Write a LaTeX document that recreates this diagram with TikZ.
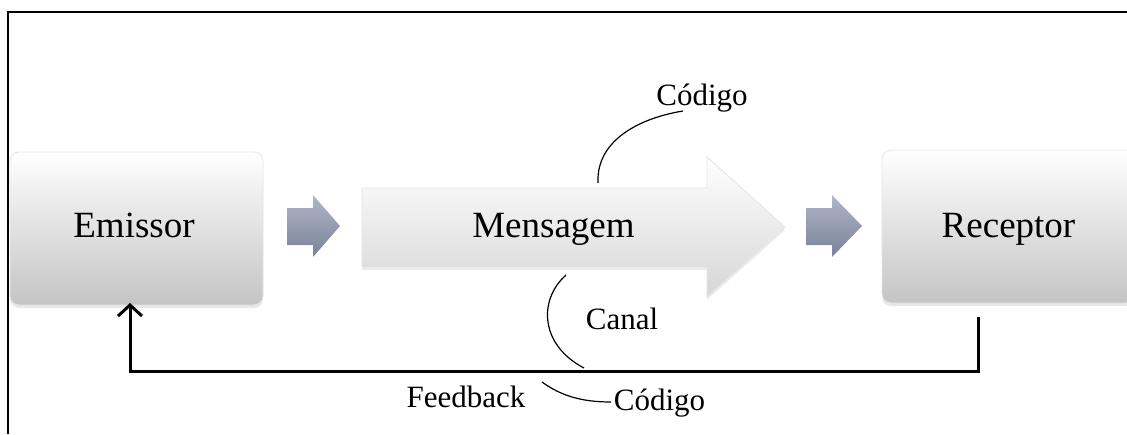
\documentclass[tikz,border=0pt]{standalone}
\usepackage{fontspec}
\setmainfont{Liberation Serif}
\usetikzlibrary{arrows.meta,shadows}
\definecolor{arrtop}{HTML}{B0B6C8}
\definecolor{arrbot}{HTML}{7A829A}
\definecolor{boxbot}{HTML}{C4C4C4}
\definecolor{msgbot}{HTML}{D6D6D6}
\begin{document}
\begin{tikzpicture}[x=1pt,y=-1pt,
  box/.style={rounded corners=9pt, top color=white, bottom color=boxbot, draw=black!10, line width=0.8pt,
    drop shadow={opacity=0.18, shadow xshift=0pt, shadow yshift=-3pt}},
  msg/.style={top color=white, bottom color=msgbot, draw=black!10, line width=0.8pt,
    drop shadow={opacity=0.15, shadow xshift=0pt, shadow yshift=-3pt}},
  smallarrow/.style={top color=arrtop, bottom color=arrbot, draw=none},
  big/.style={font=\fontsize{37}{40}\selectfont, anchor=base, inner sep=0pt},
  small/.style={font=\fontsize{31}{34}\selectfont, anchor=base, inner sep=0pt},
  fb/.style={line width=3pt, line join=miter},
  thin/.style={line width=1.2pt}
]
\useasboundingbox (0,0) rectangle (1127,434);
% frame
\draw[line width=1.5pt] (8,434) -- (8,12) -- (1127,12);
% boxes
\begin{scope}
\clip (0,0) rectangle (1127,434);
\path[box] (10,152) rectangle (263,305);
\path[box] (882,150) rectangle (1135,303);
\end{scope}
% small arrows
\path[smallarrow] (287,208) -- (313,208) -- (313,195) -- (340,226) -- (313,257) -- (313,245) -- (287,245) -- cycle;
\path[smallarrow] (806,208) -- (832,208) -- (832,195) -- (862,226) -- (832,257) -- (832,245) -- (806,245) -- cycle;
% message arrow
\path[msg] (362,188) -- (707,188) -- (707,157) -- (785,227) -- (707,297) -- (707,267) -- (362,267) -- cycle;
% texts
\node[big] (emi) at (134,237.5) {Emissor};
\node[big] (msgt) at (553.5,237.5) {Mensagem};
\node[big] (rec) at (1008.5,237.5) {Receptor};
\node[small] (cod1) at (702,105) {Código};
\node[small] (can) at (622,329) {Canal};
\node[small] (feed) at (466,407) {Feedback};
\node[small] (cod2) at (659.5,410) {Código};
% coordinates
\coordinate (c1a) at (598,183);
\coordinate (c1b) at (683,111);
\coordinate (c2a) at (566,275);
\coordinate (c2b) at (584,368);
\coordinate (c3a) at (542,382);
\coordinate (c3b) at (611,402);
\coordinate (f1) at (978,317);
\coordinate (f2) at (978,371);
\coordinate (f3) at (130,371);
\coordinate (f4) at (130,303);
% curves
\draw[thin] (c1a) .. controls (596,140) and (640,118) .. (c1b);
\draw[thin] (c2a) .. controls (538,300) and (540,345) .. (c2b);
\draw[thin] (c3a) .. controls (560,395) and (580,402) .. (c3b);
% feedback
\draw[fb, -{Straight Barb[length=11pt,width=24pt]}] (f1) -- (f2) -- (f3) -- (f4);
\end{tikzpicture}
\end{document}
